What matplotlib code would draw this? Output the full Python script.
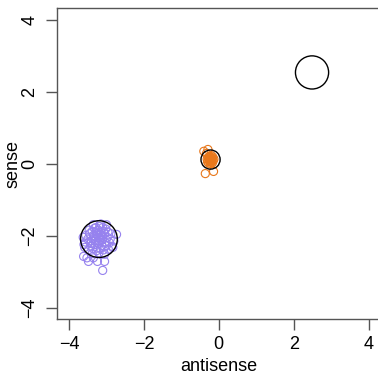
import numpy as np
import matplotlib.pyplot as plt

plt.rcParams['font.family'] = ['Liberation Sans', 'DejaVu Sans']

# purple cluster (antisense, sense)
purple_x = [-3.20, -3.15, -3.28, -3.10, -3.35, -3.05, -3.22, -3.30, -3.12, -3.40,
            -2.98, -3.18, -3.32, -3.02, -3.45, -2.92, -3.25, -3.08, -3.42, -3.50,
            -2.88, -3.15, -3.35, -3.00, -3.55, -2.85, -3.48, -3.20, -2.95, -3.60,
            -3.38, -3.05, -2.73, -3.61, -3.48, -3.10, -3.24, -3.05, -3.58, -2.83,
            -3.52, -3.35, -3.26, -3.12, -3.18, -3.28, -3.08, -3.22, -3.34, -3.04,
            -3.14, -3.24, -3.16, -3.30, -3.10, -3.20, -3.38, -2.96, -3.00, -3.42,
            -3.28, -3.10, -3.46, -2.90, -3.36, -3.16, -3.26, -3.56, -3.62, -2.80]
purple_y = [-2.05, -1.98, -2.10, -2.12, -2.00, -1.95, -1.85, -2.25, -2.28, -2.15,
            -2.05, -1.75, -1.80, -1.82, -1.95, -2.20, -2.35, -2.40, -2.30, -2.10,
            -1.95, -1.68, -1.70, -1.70, -2.00, -2.30, -2.40, -2.48, -2.38, -2.25,
            -2.50, -2.52, -1.97, -2.58, -2.72, -2.97, -2.72, -2.72, -2.33, -2.33,
            -2.62, -2.62, -1.95, -2.02, -2.18, -1.90, -1.88, -2.22, -2.08, -2.18,
            -1.92, -2.00, -2.10, -2.15, -2.05, -1.92, -1.88, -1.90, -2.28, -2.22,
            -1.78, -1.78, -1.85, -2.10, -2.36, -2.36, -2.42, -2.18, -2.05, -2.15]

# orange cluster
orange_x = [-0.22, -0.18, -0.26, -0.20, -0.28, -0.15, -0.24, -0.17, -0.30, -0.21,
            -0.25, -0.19, -0.23, -0.16, -0.27, -0.13, -0.31, -0.20, -0.22, -0.24,
            -0.18, -0.26, -0.20, -0.40, -0.29, -0.36, -0.14, -0.33]
orange_y = [0.11, 0.15, 0.08, 0.04, 0.16, 0.08, 0.20, 0.02, 0.05, 0.14,
            0.12, 0.09, 0.06, 0.18, 0.01, 0.12, 0.12, 0.22, 0.00, 0.17,
            0.07, 0.13, 0.10, 0.34, 0.39, -0.28, -0.22, 0.28]

# black group circles (centre and marker size)
group_x = [-3.20, -0.22, 2.49]
group_y = [-2.10, 0.11, 2.53]
group_s = [700, 190, 570]

ticks = [-4, -2, 0, 2, 4]

fig = plt.figure(figsize=(3.78, 3.74), dpi=100)
ax = fig.add_axes([0.1508, 0.147, 0.856, 0.8316])

ax.scatter(purple_x, purple_y, s=34, facecolors='none',
           edgecolors='#9682ee', linewidths=0.8)
ax.scatter(orange_x, orange_y, s=34, facecolors='none',
           edgecolors='#e8781c', linewidths=0.8)
ax.scatter(group_x, group_y, s=group_s, facecolors='none',
           edgecolors='black', linewidths=1.0)

ax.set_xlim(-4.32, 4.32)
ax.set_ylim(-4.32, 4.32)
ax.set_xticks(ticks)
ax.set_yticks(ticks)
ax.set_xticklabels([f"\u2212{abs(t)}" if t < 0 else str(t) for t in ticks])
ax.set_yticklabels([f"\u2212{abs(t)}" if t < 0 else str(t) for t in ticks],
                   rotation=90, va='center')
ax.tick_params(direction='out', length=8, width=1, color='#555555',
               labelsize=13)
ax.tick_params(axis='x', pad=4)
ax.tick_params(axis='y', pad=5.5)
for sp in ax.spines.values():
    sp.set_color('#555555')
    sp.set_linewidth(1)

ax.set_xlabel("antisense", fontsize=13, labelpad=4)
ax.set_ylabel("sense", fontsize=13, labelpad=0)

fig.savefig("out.png", dpi=100)
